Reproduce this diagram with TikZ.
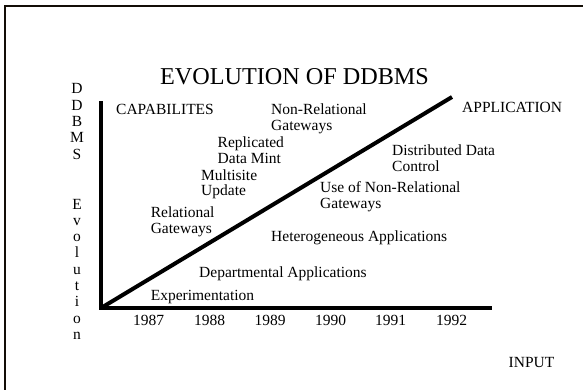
\documentclass[tikz,border=0pt]{standalone}
\usepackage{fontspec}
\setmainfont{Liberation Serif}
\newcommand\mytwo[2]{\begin{tabular}[t]{@{}l@{}}#1\\#2\end{tabular}}
\begin{document}
\begin{tikzpicture}[x=1pt,y=-1pt,
  lbl/.style={anchor=base west, inner sep=0pt, font=\fontsize{15.5}{16}\selectfont},
  ctr/.style={anchor=base, inner sep=0pt, font=\fontsize{15.5}{16}\selectfont},
  ttl/.style={anchor=base, inner sep=0pt, font=\fontsize{24.2}{26}\selectfont},
  axisline/.style={line width=3.2pt, line join=miter, line cap=rect},
  diagline/.style={line width=4pt},
  frameline/.style={line width=1.8pt, color=black!90!brown}]
\useasboundingbox (0,0) rectangle (583,390);
% frame
\coordinate (ftr) at (583,6);
\coordinate (ftl) at (5,6);
\coordinate (fbl) at (5,390);
\draw[frameline] (ftr) -- (ftl) -- (fbl);
% title
\node[ttl] (title) at (294.5,85) {EVOLUTION OF DDBMS};
% axes
\coordinate (ytop) at (101,103);
\coordinate (origin) at (101,308);
\coordinate (xend) at (490,308);
\coordinate (dend) at (452,97);
\draw[axisline] (ytop) -- (origin) -- (xend);
\draw[diagline] (origin) -- (dend);
% vertical axis label
\foreach \c [count=\i] in {D,D,B,M,S}
  \node[ctr] (dd\i) at (77,{94+16.3*(\i-1)}) {\c};
\foreach \c [count=\i] in {E,v,o,l,u,t,i,o,n}
  \node[ctr] (ev\i) at (77,{209+16.3*(\i-1)}) {\c};
% labels
\node[lbl] (cap) at (116,115) {CAPABILITES};
\node[lbl] (app) at (462,113) {APPLICATION};
\node[lbl] (nrg) at (271,115) {\mytwo{Non-Relational}{Gateways}};
\node[lbl] (rdm) at (217.5,148) {\mytwo{Replicated}{Data Mint}};
\node[lbl] (ddc) at (392,156) {\mytwo{Distributed Data}{Control}};
\node[lbl] (msu) at (201,180) {\mytwo{Multisite}{Update}};
\node[lbl] (unr) at (320,193) {\mytwo{Use of Non-Relational}{Gateways}};
\node[lbl] (rg) at (150.6,217) {\mytwo{Relational}{Gateways}};
\node[lbl] (het) at (271,241) {Heterogeneous Applications};
\node[lbl] (dep) at (199,277) {Departmental Applications};
\node[lbl] (exp) at (150.6,300) {Experimentation};
% years
\node[ctr] (y87) at (148.7,325) {1987};
\node[ctr] (y88) at (209.5,325) {1988};
\node[ctr] (y89) at (270,325) {1989};
\node[ctr] (y90) at (330.5,325) {1990};
\node[ctr] (y91) at (390.7,325) {1991};
\node[ctr] (y92) at (451.7,325) {1992};
\node[lbl] (inp) at (508.5,367) {INPUT};
\end{tikzpicture}
\end{document}
